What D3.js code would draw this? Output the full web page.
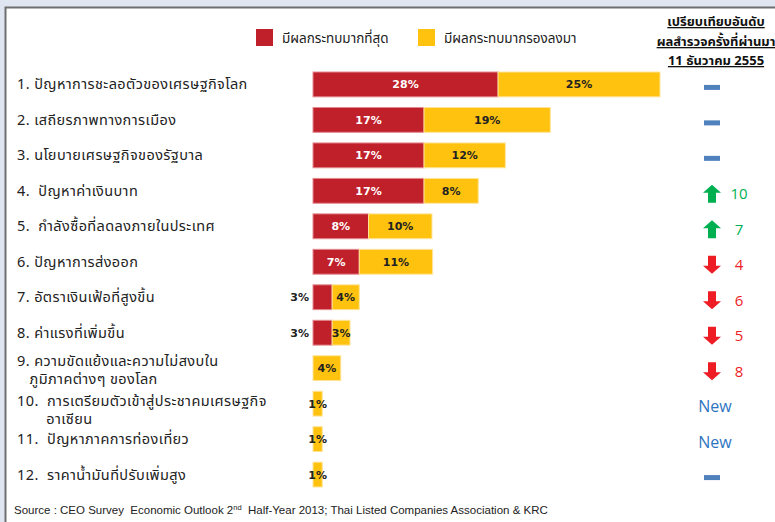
<!DOCTYPE html>
<html>
<head>
<meta charset="utf-8">
<script src="https://cdn.jsdelivr.net/npm/d3@7"></script>
<style>
  html, body { margin: 0; padding: 0; background: #dfe6f2; }
  svg { display: block; }
  text { white-space: pre; }
</style>
</head>
<body>
<div id="chart"></div>
<script>
(function () {
  "use strict";

  const W = 775;
  const H = 522;

  // issue labels (one entry per line)
  const categories = [
    ["1. ปัญหาการชะลอตัวของเศรษฐกิจโลก"],
    ["2. เสถียรภาพทางการเมือง"],
    ["3. นโยบายเศรษฐกิจของรัฐบาล"],
    ["4.  ปัญหาค่าเงินบาท"],
    ["5.  กำลังซื้อที่ลดลงภายในประเทศ"],
    ["6. ปัญหาการส่งออก"],
    ["7. อัตราเงินเฟ้อที่สูงขึ้น"],
    ["8. ค่าแรงที่เพิ่มขึ้น"],
    ["9. ความขัดแย้งและความไม่สงบใน", "   ภูมิภาคต่างๆ ของโลก"],
    ["10.  การเตรียมตัวเข้าสู่ประชาคมเศรษฐกิจ", "       อาเซียน"],
    ["11.  ปัญหาภาคการท่องเที่ยว"],
    ["12.  ราคาน้ำมันที่ปรับเพิ่มสูง"]
  ];

  // % of respondents
  const mostImpact = [28, 16.8, 16.8, 16.8, 8.4, 7, 2.9, 2.9, 0, 0, 0, 0];
  const secondImpact = [24.5, 19.1, 12.3, 8.2, 9.6, 11.1, 4.1, 2.7, 4.2, 1.4, 1.4, 1.4];

  // change vs. previous survey rank: 0 = same, null = new item
  const rankChange = [0, 0, 0, 10, 7, -4, -6, -5, -8, null, null, 0];

  const seriesNames = ["มีผลกระทบมากที่สุด", "มีผลกระทบมากรองลงมา"];
  const compareTitle = ["เปรียบเทียบอันดับ", "ผลสำรวจครั้งที่ผ่านมา", "11 ธันวาคม 2555"];

  const RED = "#c0202a";
  const YELLOW = "#ffc20e";
  const THAI = "Tahoma, 'Noto Sans Thai', 'Noto Sans', 'DejaVu Sans', sans-serif";
  const BOLD = "'DejaVu Sans', Verdana, sans-serif";

  const svg = d3.select("#chart").append("svg")
    .attr("width", W).attr("height", H);

  // white panel with a dark top/left edge
  svg.append("rect").attr("x", 5).attr("y", 7).attr("width", W).attr("height", H)
    .attr("fill", "#fff");
  svg.append("path").attr("d", `M5.5,${H} V7.5 H${W}`)
    .attr("fill", "none").attr("stroke", "#6f6f6f").attr("stroke-width", 2);

  const rows = categories.map((c, i) => ({
    i, lines: c, a: mostImpact[i], b: secondImpact[i], change: rankChange[i]
  }));

  const x = d3.scaleLinear().domain([0, 52.5]).range([313, 660]);
  const y = d3.scaleBand().domain(d3.range(rows.length)).range([72, 487]).paddingInner(0.3);
  const bh = y.bandwidth();
  const fmt = (v) => d3.format(".0f")(v) + "%";

  // legend
  const legend = svg.append("g");
  const legendX = [256, 418];
  seriesNames.forEach((name, k) => {
    legend.append("rect").attr("x", legendX[k]).attr("y", 29).attr("width", 17).attr("height", 17)
      .attr("fill", k === 0 ? RED : YELLOW);
    legend.append("text").attr("x", legendX[k] + 26).attr("y", 43)
      .attr("font-family", THAI).attr("font-size", 13.5).attr("fill", "#222").text(name);
  });

  // comparison header
  compareTitle.forEach((t, k) => {
    svg.append("text").attr("x", 716).attr("y", [26, 46, 65][k])
      .attr("text-anchor", "middle").attr("font-family", THAI).attr("font-size", 13)
      .attr("font-weight", "bold").attr("text-decoration", "underline")
      .attr("fill", "#111").text(t);
  });

  // left labels (wrapped labels are one text with tspans)
  const labels = svg.append("g");
  rows.forEach((d) => {
    const cy = y(d.i) + bh / 2;
    const first = d.lines.length === 1 ? cy + 5 : (d.i === 8 ? cy - 2 : cy + 2);
    const t = labels.append("text").attr("x", 17).attr("y", first)
      .attr("font-family", THAI).attr("font-size", 14.5).attr("letter-spacing", 0.4)
      .attr("fill", "#222");
    d.lines.forEach((line, k) => {
      t.append("tspan").attr("x", 17).attr("dy", k === 0 ? 0 : 18).text(line);
    });
  });

  // bars
  const bars = svg.append("g");
  rows.forEach((d) => {
    const y0 = y(d.i);
    const cy = y0 + bh / 2;
    if (d.a > 0) {
      const w = x(d.a) - x(0);
      bars.append("rect").attr("x", x(0)).attr("y", y0).attr("width", w).attr("height", bh)
        .attr("fill", RED).attr("stroke", "#e38a8f").attr("stroke-width", 1);
      const inside = w >= 24;
      bars.append("text")
        .attr("x", inside ? x(0) + w / 2 : x(0) - 4)
        .attr("y", cy).attr("dy", "0.36em")
        .attr("text-anchor", inside ? "middle" : "end")
        .attr("font-family", BOLD).attr("font-size", 11).attr("font-weight", "bold")
        .attr("fill", inside ? "#fff" : "#222").text(fmt(d.a));
    }
    const w2 = x(d.a + d.b) - x(d.a);
    bars.append("rect").attr("x", x(d.a)).attr("y", y0).attr("width", w2).attr("height", bh)
      .attr("fill", YELLOW).attr("stroke", "#ffe49a").attr("stroke-width", 1);
    bars.append("text").attr("x", x(d.a) + w2 / 2).attr("y", cy).attr("dy", "0.36em")
      .attr("text-anchor", "middle").attr("font-family", BOLD).attr("font-size", 11)
      .attr("font-weight", "bold").attr("fill", "#222").text(fmt(d.b));
  });

  // rank change markers
  const marks = svg.append("g");
  const mx = 712;
  function arrow(cx, cy, up, color) {
    const s = up ? 1 : -1;
    const pts = [
      [0, -9], [9, -1], [4, -1], [4, 9], [-4, 9], [-4, -1], [-9, -1]
    ].map(([px, py]) => [cx + px, cy + s * py]);
    marks.append("path").attr("d", d3.line()(pts) + "Z").attr("fill", color);
  }
  rows.forEach((d) => {
    const cy = y(d.i) + bh / 2 + 3;
    if (d.change === null) {
      marks.append("text").attr("x", 715).attr("y", cy).attr("dy", "0.36em")
        .attr("text-anchor", "middle").attr("font-family", "'Open Sans', Calibri, sans-serif")
        .attr("font-size", 16).attr("fill", "#2e75c0").text("New");
    } else if (d.change === 0) {
      marks.append("rect").attr("x", mx - 8).attr("y", cy - 2.5).attr("width", 16).attr("height", 5)
        .attr("fill", "#4f81bd");
    } else {
      const up = d.change > 0;
      const color = up ? "#00b050" : "#ee1c25";
      arrow(mx, cy, up, color);
      marks.append("text").attr("x", 739).attr("y", cy).attr("dy", "0.36em")
        .attr("text-anchor", "middle").attr("font-family", "'Open Sans', Calibri, sans-serif")
        .attr("font-size", 15).attr("fill", color).text(Math.abs(d.change));
    }
  });

  // source note
  const src = svg.append("text").attr("x", 14).attr("y", 514)
    .attr("font-family", "'Liberation Sans', Arial, sans-serif").attr("font-size", 11.5)
    .attr("fill", "#222");
  src.append("tspan").text("Source : CEO Survey  Economic Outlook 2");
  src.append("tspan").attr("font-size", 7.5).attr("dy", -4).text("nd");
  src.append("tspan").attr("dy", 4).text("  Half-Year 2013; Thai Listed Companies Association & KRC");
})();
</script>
</body>
</html>
